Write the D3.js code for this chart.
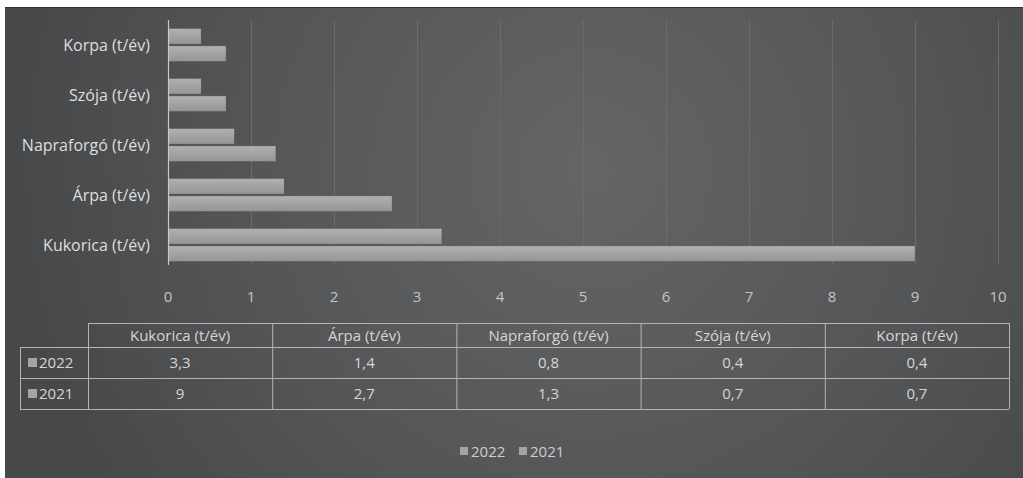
<!DOCTYPE html>
<html>
<head>
<meta charset="utf-8">
<script src="https://cdn.jsdelivr.net/npm/d3@7"></script>
<style>
  body { margin: 0; background: #fff; }
  svg { display: block; font-family: "Open Sans", sans-serif; }
</style>
</head>
<body>
<svg id="chart" width="1023" height="478"></svg>
<script>
// data
const categories = ["Kukorica (t/év)", "Árpa (t/év)", "Napraforgó (t/év)", "Szója (t/év)", "Korpa (t/év)"];
const seriesNames = ["2022", "2021"];
const values2022 = [3.3, 1.4, 0.8, 0.4, 0.4];
const values2021 = [9, 2.7, 1.3, 0.7, 0.7];
const tableLabels2022 = ["3,3", "1,4", "0,8", "0,4", "0,4"];
const tableLabels2021 = ["9", "2,7", "1,3", "0,7", "0,7"];
const xTicks = [0, 1, 2, 3, 4, 5, 6, 7, 8, 9, 10];

const svg = d3.select("#chart");
const defs = svg.append("defs");

const bg = defs.append("radialGradient").attr("id", "bg")
  .attr("gradientUnits", "userSpaceOnUse")
  .attr("cx", 590).attr("cy", 170).attr("r", 580);
bg.append("stop").attr("offset", "0%").attr("stop-color", "#646567");
bg.append("stop").attr("offset", "60%").attr("stop-color", "#545557");
bg.append("stop").attr("offset", "100%").attr("stop-color", "#47484a");

const barGrad = defs.append("linearGradient").attr("id", "bar")
  .attr("x1", 0).attr("y1", 0).attr("x2", 0).attr("y2", 1);
barGrad.append("stop").attr("offset", "0%").attr("stop-color", "#b0b1b3");
barGrad.append("stop").attr("offset", "100%").attr("stop-color", "#949597");

svg.append("rect").attr("x", 5).attr("y", 7).attr("width", 1018).attr("height", 471)
  .attr("fill", "url(#bg)");
svg.append("line").attr("x1", 5).attr("x2", 1023).attr("y1", 7.5).attr("y2", 7.5)
  .attr("stroke", "#2e2f30").attr("stroke-width", 1);

const plot = { left: 168, right: 998, top: 20, bottom: 270 };

const x = d3.scaleLinear().domain([0, 10]).range([plot.left, plot.right]);
const y = d3.scaleBand().domain(categories.slice().reverse())
  .range([plot.top, plot.bottom]).paddingInner(0.34).paddingOuter(0.17);
const ySub = d3.scaleBand().domain(seriesNames).range([0, y.bandwidth()]).paddingInner(0.1);

// gridlines
svg.append("g")
  .selectAll("line").data(xTicks.slice(1)).join("line")
  .attr("x1", d => x(d) + 0.5).attr("x2", d => x(d) + 0.5)
  .attr("y1", plot.top).attr("y2", plot.bottom - 5)
  .attr("stroke", "#6a6b6d").attr("stroke-width", 1);

// bars
const rows = categories.map((c, i) => ({ cat: c, vals: [values2022[i], values2021[i]] }));
const g = svg.append("g");
g.selectAll("g").data(rows).join("g")
  .attr("transform", d => `translate(0,${y(d.cat)})`)
  .selectAll("rect").data(d => d.vals.map((v, j) => ({ s: seriesNames[j], v })))
  .join("rect")
  .attr("x", x(0))
  .attr("y", d => ySub(d.s))
  .attr("width", d => x(d.v) - x(0))
  .attr("height", ySub.bandwidth())
  .attr("fill", "url(#bar)")
  .attr("stroke", "#3e3f40").attr("stroke-opacity", 0.5).attr("stroke-width", 0.6);

// vertical axis line
svg.append("line").attr("x1", x(0) + 0.5).attr("x2", x(0) + 0.5)
  .attr("y1", plot.top).attr("y2", plot.bottom - 5)
  .attr("stroke", "#c8c8c8").attr("stroke-width", 1.2);

// category labels
svg.append("g").selectAll("text").data(categories).join("text")
  .attr("x", 150).attr("y", d => y(d) + y.bandwidth() / 2)
  .attr("dy", "0.35em").attr("text-anchor", "end")
  .attr("fill", "#dedede").attr("font-size", 16)
  .text(d => d);

// x tick labels
svg.append("g").selectAll("text").data(xTicks).join("text")
  .attr("x", d => x(d)).attr("y", 302)
  .attr("text-anchor", "middle").attr("fill", "#c4c4c4").attr("font-size", 15)
  .text(d => d);

// data table
const tbl = { left: 20, keyRight: 88, right: 1009, top: 323 };
const colX = d3.scaleBand().domain(categories).range([tbl.keyRight, tbl.right]);
const rowY = [tbl.top, tbl.top + 24, tbl.top + 55, tbl.top + 86];
const lineCol = "#b4b4b4";
const t = svg.append("g").attr("stroke", lineCol).attr("stroke-width", 1).attr("fill", "none");
t.append("line").attr("x1", tbl.keyRight).attr("x2", tbl.right).attr("y1", rowY[0] + 0.5).attr("y2", rowY[0] + 0.5);
[1, 2, 3].forEach(i => t.append("line").attr("x1", tbl.left).attr("x2", tbl.right)
  .attr("y1", rowY[i] + 0.5).attr("y2", rowY[i] + 0.5));
t.append("line").attr("x1", tbl.left + 0.5).attr("x2", tbl.left + 0.5).attr("y1", rowY[1]).attr("y2", rowY[3]);
categories.concat([null]).forEach(c => {
  const xx = c ? colX(c) : tbl.right;
  t.append("line").attr("x1", xx + 0.5).attr("x2", xx + 0.5).attr("y1", rowY[0]).attr("y2", rowY[3]);
});

const txt = svg.append("g").attr("fill", "#d6d6d6").attr("font-size", 15).attr("text-anchor", "middle");
txt.selectAll(".h").data(categories).join("text").attr("class", "h")
  .attr("x", d => colX(d) + colX.bandwidth() / 2).attr("y", rowY[0] + 18).text(d => d);
txt.selectAll(".r1").data(tableLabels2022).join("text").attr("class", "r1")
  .attr("x", (d, i) => colX(categories[i]) + colX.bandwidth() / 2).attr("y", rowY[1] + 21).text(d => d);
txt.selectAll(".r2").data(tableLabels2021).join("text").attr("class", "r2")
  .attr("x", (d, i) => colX(categories[i]) + colX.bandwidth() / 2).attr("y", rowY[2] + 21).text(d => d);

// legend keys in the table
seriesNames.forEach((s, i) => {
  svg.append("rect").attr("x", 28).attr("y", rowY[i + 1] + 11).attr("width", 9).attr("height", 9)
    .attr("fill", "#a3a4a6");
  svg.append("text").attr("x", 39).attr("y", rowY[i + 1] + 21)
    .attr("fill", "#d6d6d6").attr("font-size", 15).text(s);
});

// bottom legend
const leg = svg.append("g").attr("transform", "translate(460,457)");
seriesNames.forEach((s, i) => {
  const lg = leg.append("g").attr("transform", `translate(${i * 59},0)`);
  lg.append("rect").attr("x", 0).attr("y", -10).attr("width", 8).attr("height", 8).attr("fill", "#a3a4a6");
  lg.append("text").attr("x", 11).attr("y", 0).attr("fill", "#cfcfcf").attr("font-size", 15).text(s);
});
</script>
</body>
</html>
